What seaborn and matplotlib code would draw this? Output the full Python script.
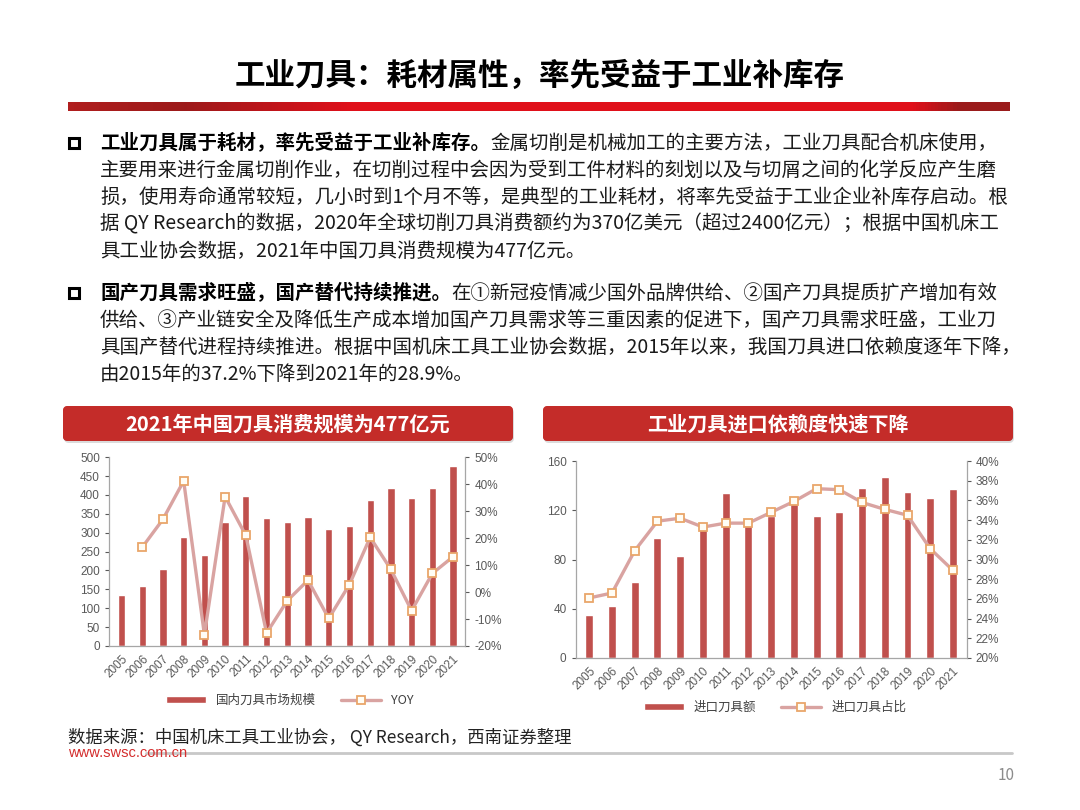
import numpy as np
import pandas as pd
import matplotlib
matplotlib.use("Agg")
import matplotlib.pyplot as plt
import seaborn as sns
from matplotlib.patches import FancyBboxPatch, Rectangle
from matplotlib.colors import LinearSegmentedColormap
from matplotlib.ticker import PercentFormatter

# data
years = list(range(2005, 2022))
market_size = [136, 160, 203, 288, 242, 329, 398, 339, 329, 343, 311, 319, 387, 419, 391, 419, 477]
market_yoy = [np.nan, 16.6, 27.0, 41.2, -15.8, 35.4, 21.0, -15.2, -3.2, 4.4, -9.8, 2.8, 20.3, 8.4, -6.9, 6.9, 13.1]
import_value = [35, 42.6, 62, 97.4, 82.8, 107, 134.4, 114, 115, 125, 115, 119, 138, 147, 135, 130, 137]
import_share = [26.1, 26.6, 30.9, 33.9, 34.2, 33.3, 33.7, 33.7, 34.8, 35.9, 37.2, 37.1, 35.8, 35.1, 34.5, 31.1, 28.9]

title = "工业刀具：耗材属性，率先受益于工业补库存"
para1_bold = "工业刀具属于耗材，率先受益于工业补库存。"
para1 = ["金属切削是机械加工的主要方法，工业刀具配合机床使用，",
         "主要用来进行金属切削作业，在切削过程中会因为受到工件材料的刻划以及与切屑之间的化学反应产生磨",
         "损，使用寿命通常较短，几小时到1个月不等，是典型的工业耗材，将率先受益于工业企业补库存启动。根",
         "据 QY Research的数据，2020年全球切削刀具消费额约为370亿美元（超过2400亿元）；根据中国机床工",
         "具工业协会数据，2021年中国刀具消费规模为477亿元。"]
para2_bold = "国产刀具需求旺盛，国产替代持续推进。"
para2 = ["在①新冠疫情减少国外品牌供给、②国产刀具提质扩产增加有效",
         "供给、③产业链安全及降低生产成本增加国产刀具需求等三重因素的促进下，国产刀具需求旺盛，工业刀",
         "具国产替代进程持续推进。根据中国机床工具工业协会数据，2015年以来，我国刀具进口依赖度逐年下降，",
         "由2015年的37.2%下降到2021年的28.9%。"]
left_header = "2021年中国刀具消费规模为477亿元"
right_header = "工业刀具进口依赖度快速下降"
source = "数据来源：中国机床工具工业协会， QY Research，西南证券整理"

BAR = "#C0504D"
LINE = "#D9A3A1"
MEC = "#E9A66A"
GRID_GRAY = "#A6A6A6"
TXT_GRAY = "#595959"

sns.set_theme(style="white")
plt.rcParams["font.family"] = ["Noto Sans CJK SC", "DejaVu Sans"]
plt.rcParams["axes.unicode_minus"] = False

fig = plt.figure(figsize=(10.8, 8.1), dpi=100)

# background layer in pixel coordinates
bg = fig.add_axes([0, 0, 1, 1])
bg.axis("off")

# title and red rule
bg.text(540, 76, title, ha="center", va="center", fontsize=22, weight="bold", color="black")
rule_cmap = LinearSegmentedColormap.from_list(
    "rule", [(0, "#B01E1E"), (0.12, "#9C1A1A"), (0.3, "#E0101A"), (0.9, "#E0101A"), (0.95, "#9A1B1B"), (1, "#9A1B1B")])
bg.imshow(np.linspace(0, 1, 300).reshape(1, -1), cmap=rule_cmap, extent=(68, 1010, 111, 102), aspect="auto")

# bullet paragraphs
renderer = fig.canvas.get_renderer()


def paragraph(y0, bold, lines):
    bg.add_patch(Rectangle((69, y0 - 5), 10, 10, facecolor="white", edgecolor="black", lw=2.2))
    t = bg.text(100, y0, bold, ha="left", va="center", fontsize=14, weight="bold", color="black")
    bg.set_xlim(0, 1080)
    bg.set_ylim(810, 0)
    x_end = t.get_window_extent(renderer).x1
    bg.text(x_end, y0, lines[0], ha="left", va="center", fontsize=14, color="#1A1A1A")
    for i, line in enumerate(lines[1:]):
        bg.text(100, y0 + 27 * (i + 1), line, ha="left", va="center", fontsize=14, color="#1A1A1A")


paragraph(143, para1_bold, para1)
paragraph(293, para2_bold, para2)

# red header boxes
box_cmap = LinearSegmentedColormap.from_list("box", ["#D8413B", "#C42C29", "#A81E1E"])


def header(x0, x1, text):
    shadow = FancyBboxPatch((x0 + 1, 408), x1 - x0, 35, boxstyle="round,pad=0,rounding_size=5",
                            facecolor="#999999", edgecolor="none", alpha=0.35)
    bg.add_patch(shadow)
    box = FancyBboxPatch((x0, 406), x1 - x0, 35, boxstyle="round,pad=0,rounding_size=5",
                         facecolor="#C42C29", edgecolor="none")
    bg.add_patch(box)
    im = bg.imshow(np.linspace(0, 1, 50).reshape(-1, 1), cmap=box_cmap, extent=(x0, x1, 441, 406), aspect="auto")
    im.set_clip_path(box)
    bg.text((x0 + x1) / 2, 424, text, ha="center", va="center", fontsize=14.5, weight="bold", color="white")


header(63, 513, left_header)
header(543, 1013, right_header)

# footer
bg.text(68, 738, source, ha="left", va="center", fontsize=12.5, color="#222222", style="italic")
bg.text(68, 753, "www.swsc.com.cn", ha="left", va="center", fontsize=10.5, color="#D42D2D",
        family=["Liberation Sans", "DejaVu Sans"])
bg.plot([146, 1012], [753, 753], color="#C8C8C8", lw=2)
bg.text(1015, 775, "10", ha="right", va="center", fontsize=11, color="#8C8C8C")
bg.set_xlim(0, 1080)
bg.set_ylim(810, 0)


def combo(rect, bar_vals, line_vals, ylim, ystep, ylim2, ystep2, bar_label, line_label, legend_xy):
    df = pd.DataFrame({"year": years, "bar": bar_vals, "line": line_vals})
    ax = fig.add_axes(rect)
    sns.barplot(data=df, x="year", y="bar", native_scale=True, width=0.35, color=BAR, saturation=1, ax=ax)
    ax2 = ax.twinx()
    sns.lineplot(data=df, x="year", y="line", ax=ax2, color=LINE, lw=2.4, marker="s", ms=6,
                 mfc="#FFFDF5", mec=MEC, mew=1.3)

    ax.set_xlim(years[0] - 0.6, years[-1] + 0.6)
    ax.set_ylim(*ylim)
    ax.set_yticks(np.arange(ylim[0], ylim[1] + 0.01, ystep))
    ax2.set_ylim(*ylim2)
    ax2.set_yticks(np.arange(ylim2[0], ylim2[1] + 0.01, ystep2))
    ax2.yaxis.set_major_formatter(PercentFormatter(decimals=0))
    ax.set_xticks(years)
    ax.set_xticklabels([str(y) for y in years], rotation=45, ha="right", rotation_mode="anchor")
    for a in (ax, ax2):
        a.set_xlabel("")
        a.set_ylabel("")
        a.spines["top"].set_visible(False)
        a.tick_params(labelsize=8.5, colors=TXT_GRAY, length=3, width=0.8, direction="out",
                      labelfontfamily="Liberation Sans")
        for s in a.spines.values():
            s.set_color(GRID_GRAY)
            s.set_linewidth(0.9)
    ax2.spines["left"].set_visible(False)
    ax2.spines["bottom"].set_visible(False)
    ax.spines["right"].set_visible(False)
    ax.tick_params(axis="x", pad=2)

    fig.legend([ax.patches[0], ax2.lines[0]], [bar_label, line_label], loc="center",
               bbox_to_anchor=legend_xy, ncol=2, frameon=False, fontsize=9,
               handlelength=3.2, handleheight=0.5, columnspacing=2.0, labelcolor="#404040")
    return ax, ax2


combo([0.101, 0.2025, 0.330, 0.233], market_size, market_yoy, (0, 500), 50, (-20, 50), 10,
      "国内刀具市场规模", "YOY", (290 / 1080, 1 - 700 / 810))
combo([0.533, 0.1877, 0.362, 0.243], import_value, import_share, (0, 160), 40, (20, 40), 2,
      "进口刀具额", "进口刀具占比", (775 / 1080, 1 - 707 / 810))

fig.savefig("out.png", dpi=100, facecolor="white")
